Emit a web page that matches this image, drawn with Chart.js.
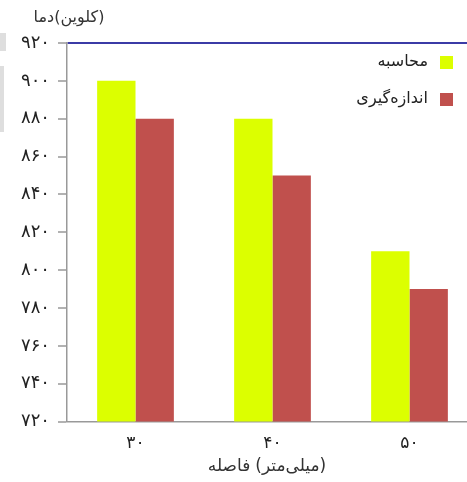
<!DOCTYPE html>
<html>
<head>
<meta charset="utf-8">
<script src="https://cdn.jsdelivr.net/npm/chart.js@4.4.0/dist/chart.umd.min.js"></script>
<style>
  html, body { margin: 0; padding: 0; background: #fff; overflow: hidden; }
  #wrap { width: 478px; height: 482px; }
</style>
</head>
<body>
<div id="wrap"><canvas id="chart" width="478" height="482"></canvas></div>
<script>
// chart data
const categories = ['۳۰', '۴۰', '۵۰'];
const seriesNames = ['محاسبه', 'اندازه‌گیری'];
const calculated = [900, 880, 810];
const measured = [880, 850, 790];
const yTicks = [720, 740, 760, 780, 800, 820, 840, 860, 880, 900, 920];
const yTickLabels = ['۷۲۰', '۷۴۰', '۷۶۰', '۷۸۰', '۸۰۰', '۸۲۰', '۸۴۰', '۸۶۰', '۸۸۰', '۹۰۰', '۹۲۰'];
// axis titles: word and bracket part, drawn word-left like the original
const yTitle = ['دما', '(کلوین)'];
const xTitle = ['فاصله', '(میلی‌متر)'];

const colors = ['#dcff00', '#c0504d'];
const fontFamily = '"DejaVu Sans", sans-serif';

// writes the two parts of a title side by side, centred on cx
function drawTitle(ctx, parts, cx, cy, gap) {
    const w0 = ctx.measureText(parts[0]).width;
    const w1 = ctx.measureText(parts[1]).width;
    const left = cx - (w0 + gap + w1) / 2;
    ctx.textAlign = 'left';
    ctx.fillText(parts[0], left, cy);
    ctx.fillText(parts[1], left + w0 + gap, cy);
}

// titles, legend (box right of text) and the grey marks at the left edge
const extras = {
    id: 'extras',
    beforeDraw(chart) {
        const ctx = chart.ctx;
        ctx.save();
        ctx.fillStyle = '#dedede';
        ctx.fillRect(0, 33, 6, 18);
        ctx.fillRect(0, 66, 4, 66);
        ctx.restore();
    },
    afterDraw(chart) {
        const ctx = chart.ctx;
        const area = chart.chartArea;
        ctx.save();
        ctx.direction = 'ltr';
        ctx.fillStyle = '#333';
        ctx.textBaseline = 'middle';
        ctx.font = '16px ' + fontFamily;
        drawTitle(ctx, yTitle, 69, 18, 0);
        ctx.font = '17px ' + fontFamily;
        drawTitle(ctx, xTitle, (area.left + 467) / 2, 467, 5);

        ctx.font = '16px ' + fontFamily;
        const rows = [62, 99];
        chart.data.datasets.forEach((ds, i) => {
            ctx.fillStyle = ds.backgroundColor;
            ctx.fillRect(440, rows[i] - 6, 13, 13);
            ctx.fillStyle = '#222';
            ctx.textAlign = 'right';
            ctx.fillText(ds.label, 428, rows[i]);
        });
        ctx.restore();
    }
};

new Chart(document.getElementById('chart'), {
    type: 'bar',
    data: {
        labels: categories,
        datasets: [
            { label: seriesNames[0], data: calculated, backgroundColor: colors[0] },
            { label: seriesNames[1], data: measured, backgroundColor: colors[1] }
        ]
    },
    options: {
        responsive: false,
        animation: false,
        layout: { padding: { top: 43, right: 0, left: 0, bottom: 24 } },
        datasets: { bar: { barPercentage: 1, categoryPercentage: 0.56 } },
        plugins: { legend: { display: false }, tooltip: { enabled: false } },
        scales: {
            x: {
                grid: { display: false },
                border: { color: '#999', width: 1.5 },
                ticks: { color: '#222', font: { size: 17, family: fontFamily }, padding: 4 }
            },
            y: {
                min: 720,
                max: 920,
                afterFit: s => { s.width = 67; },
                afterBuildTicks: s => { s.ticks = yTicks.map(v => ({ value: v })); },
                border: { color: '#999', width: 1.5 },
                grid: {
                    drawOnChartArea: true,
                    color: c => (c.tick && c.tick.value === 920 ? '#3b3ba6' : 'rgba(0,0,0,0)'),
                    lineWidth: c => (c.tick && c.tick.value === 920 ? 2 : 0),
                    tickColor: '#999',
                    tickLength: 9,
                    tickWidth: 1.5
                },
                ticks: {
                    color: '#222',
                    padding: 8,
                    font: { size: 18, family: fontFamily },
                    callback: (v) => yTickLabels[yTicks.indexOf(v)]
                }
            }
        }
    },
    plugins: [extras]
});
</script>
</body>
</html>
